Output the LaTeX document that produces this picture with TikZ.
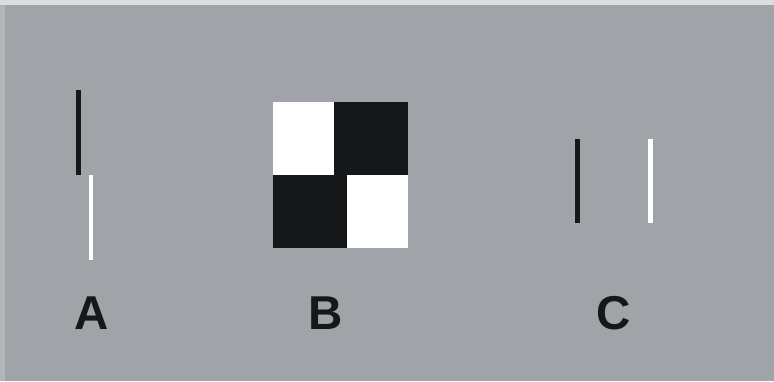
\documentclass[tikz,border=0pt]{standalone}
\usepackage{fontspec}
\setmainfont{Liberation Sans}
\definecolor{bg}{HTML}{A0A3A7}
\definecolor{topstrip}{HTML}{DCDDDE}
\definecolor{leftstrip}{HTML}{B3B6B9}
\definecolor{ink}{HTML}{151719}
\tikzset{
  blackfill/.style={fill=ink, draw=none},
  whitefill/.style={fill=white, draw=none},
  lab/.style={anchor=base, inner sep=0pt, text=ink, font=\fontsize{47.5}{50}\selectfont\bfseries}
}
\begin{document}
\begin{tikzpicture}[x=1pt,y=-1pt]
\useasboundingbox (0,0) rectangle (774,381);
\fill[bg] (0,0) rectangle (774,381);
\fill[leftstrip] (0,0) rectangle (5,381);
\fill[topstrip] (0,0) rectangle (774,4.5);
% A
\fill[blackfill] (76.3,90) rectangle (81,175);
\fill[whitefill] (88.7,175) rectangle (93.3,260);
% B
\fill[whitefill] (273.3,102.3) rectangle (334,175);
\fill[blackfill] (334,102.3) rectangle (407.7,175);
\fill[blackfill] (273.3,175) rectangle (346.7,248);
\fill[whitefill] (346.7,175) rectangle (407.7,248);
% C
\fill[blackfill] (575,139) rectangle (580,223.3);
\fill[whitefill] (648,139) rectangle (652.7,223.3);
% labels
\node[lab] (la) at (91.5,329) {A};
\node[lab] (lb) at (326,329) {B};
\node[lab] (lc) at (614,329) {C};
\end{tikzpicture}
\end{document}
